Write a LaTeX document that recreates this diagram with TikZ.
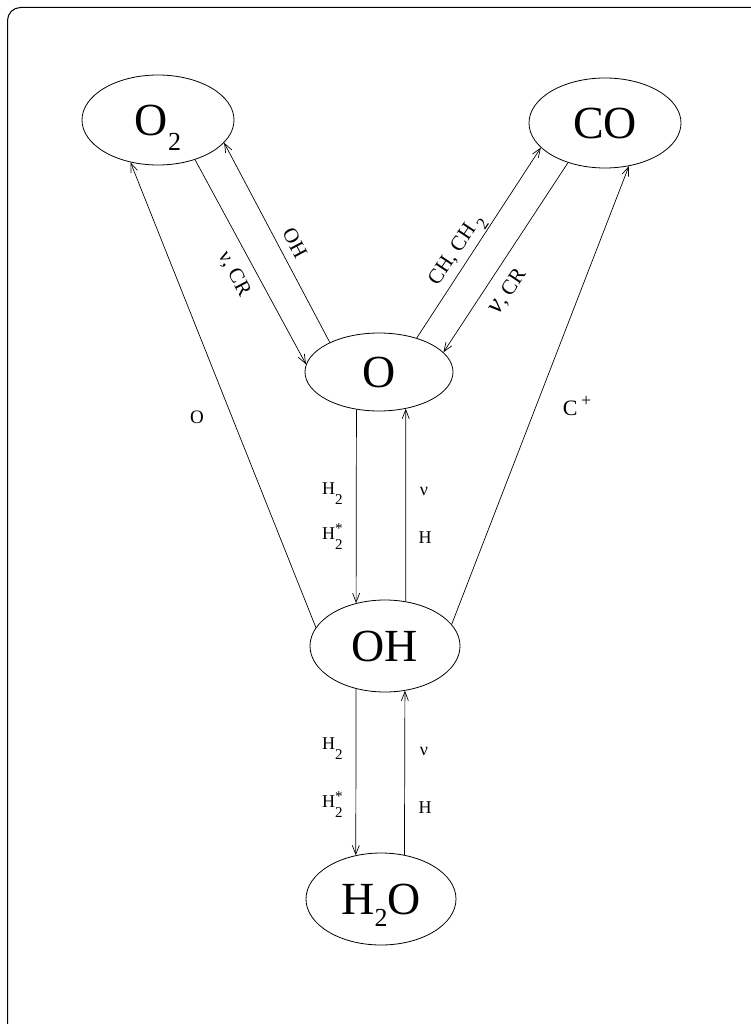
\documentclass[tikz,border=0pt]{standalone}
\usepackage{fontspec}
\setmainfont{Liberation Serif}
\usetikzlibrary{arrows.meta,shapes.geometric}
\newcommand\lowsub[2]{\raisebox{-#1}[0pt][0pt]{\fontsize{26}{26}\selectfont #2}}
\newcommand\smsub{\raisebox{-10pt}[0pt][0pt]{\fontsize{15}{15}\selectfont 2}}
\newcommand\rotsub{\,\raisebox{-8pt}[0pt][0pt]{\fontsize{17}{17}\selectfont 2}}
\newcommand\smsubsup{\rlap{\raisebox{6pt}[0pt][0pt]{\fontsize{15}{15}\selectfont *}}\raisebox{-10pt}[0pt][0pt]{\fontsize{15}{15}\selectfont 2}}
\begin{document}
\begin{tikzpicture}[x=1pt,y=-1pt,
  big/.style={draw,ellipse,inner sep=0pt,minimum width=152pt,minimum height=90pt,
    font=\fontsize{46}{46}\selectfont,line width=0.8pt},
  conn/.style={line width=0.7pt,-{Straight Barb[length=9pt,width=7pt]}},
  lab/.style={font=\fontsize{18}{18}\selectfont,inner sep=0pt},
  rlab/.style={font=\fontsize{21}{21}\selectfont,inner sep=0pt}]
\useasboundingbox (0,0) rectangle (751,1024);
\clip (0,0) rectangle (751,1024);
\draw[line width=1pt,rounded corners=13pt] (7.5,7.5) rectangle (780,1050);

\node[big] (O2) at (158,120) {O\lowsub{15pt}{2}};
\node[big] (CO) at (605,123) {CO};
\node[big,minimum width=148pt,minimum height=78pt] (O) at (379,372) {O};
\node[big,minimum width=150pt,minimum height=92pt] (OH) at (385,646) {OH};
\node[big,minimum width=150pt,minimum height=92pt] (H2O) at (381,899) {H\lowsub{12pt}{2}O};

\draw[conn] (O2.-47.2) -- (O.174.5);
\draw[conn] (O.149.4) -- (O2.-19.8);
\draw[conn] (O.42.6) -- (CO.-159);
\draw[conn] (CO.-133.5) -- (O.17.4);
\draw[conn] (OH.165.8) -- (O2.-123.7);
\draw[conn] (OH.18.2) -- (CO.-61.9);
\draw[conn] (O.-121.9) -- (OH.124.4);
\draw[conn] (OH.65.7) -- (O.-54.5);
\draw[conn] (OH.-124.4) -- (H2O.120);
\draw[conn] (H2O.62.3) -- (OH.-66.9);

\node[rlab,rotate=-62] (l1) at (234,274) {ν, CR};
\node[rlab,rotate=-62] (l2) at (295,243) {OH};
\node[rlab,rotate=56] (l3) at (456,250) {CH, CH\rotsub};
\node[rlab,rotate=56] (l4) at (508,292) {{\fontsize{27}{27}\selectfont\itshape ν}, CR};
\node[lab,font=\fontsize{19}{19}\selectfont] (l5) at (197,417) {O};
\node[lab,font=\fontsize{22}{22}\selectfont] (l6) at (577,406) {C\,\raisebox{9pt}{\fontsize{18}{18}\selectfont +}};

\node[lab,anchor=base west] (a1) at (322,494) {H\smsub};
\node[lab,anchor=base west] (a2) at (322,539) {H\smsubsup};
\node[lab,anchor=base] (a3) at (424,495) {ν};
\node[lab,anchor=base] (a4) at (425,543) {H};

\node[lab,anchor=base west] (b1) at (322,749) {H\smsub};
\node[lab,anchor=base west] (b2) at (322,807) {H\smsubsup};
\node[lab,anchor=base] (b3) at (424,755) {ν};
\node[lab,anchor=base] (b4) at (425,813) {H};
\end{tikzpicture}
\end{document}
